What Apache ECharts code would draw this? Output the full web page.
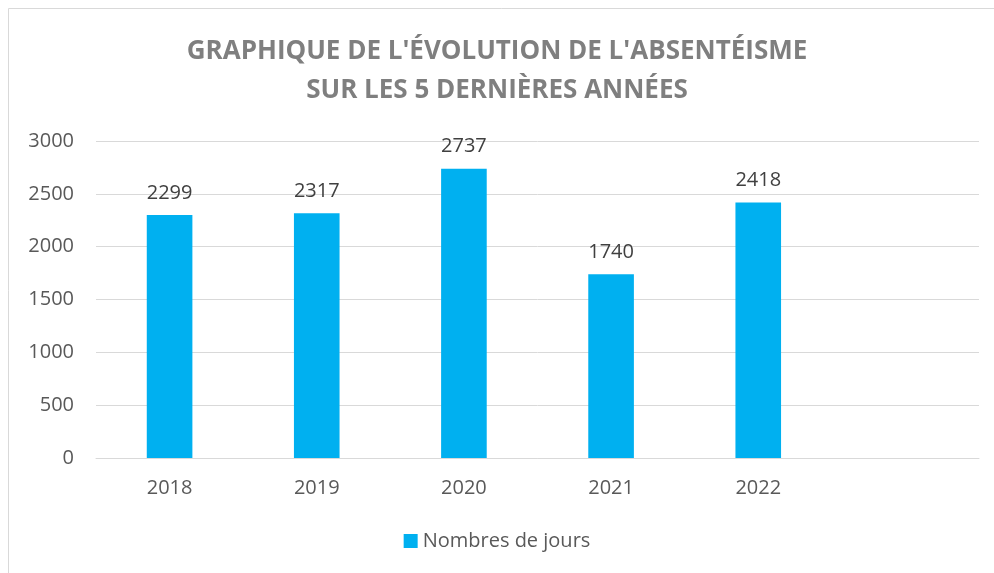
<!DOCTYPE html>
<html>
<head>
<meta charset="utf-8">
<script src="https://cdn.jsdelivr.net/npm/echarts@6/dist/echarts.min.js"></script>
<style>
    html, body { margin: 0; padding: 0; background: #fff; }
    #chart { width: 994px; height: 573px; }
</style>
</head>
<body>
<div id="chart"></div>
<script>
// data
let years = ['2018', '2019', '2020', '2021', '2022', ''];
let jours = [2299, 2317, 2737, 1740, 2418, '-'];
let seriesName = 'Nombres de jours';
let titleLines = ["GRAPHIQUE DE L'ÉVOLUTION DE L'ABSENTÉISME", 'SUR LES 5 DERNIÈRES ANNÉES'];

// ----------------------------------------------------
let chart = echarts.init(document.getElementById('chart'));
let font = "'Open Sans', sans-serif";
let option = {
    animation: false,
    color: ['#00b0f0'],
    graphic: [{
        type: 'polyline',
        shape: { points: [[8.5, 573], [8.5, 8.5], [994, 8.5]] },
        style: { stroke: '#d9d9d9', lineWidth: 1, fill: null }
    }],
    title: {
        left: 'center',
        top: 27,
        text: titleLines.join('\n'),
        textStyle: {
            fontFamily: font,
            fontSize: 26,
            fontWeight: 'bold',
            color: '#7f7f7f',
            lineHeight: 39
        }
    },
    legend: {
        bottom: 17,
        left: 'center',
        itemWidth: 14,
        itemHeight: 14,
        itemGap: 5,
        icon: 'rect',
        textStyle: { fontFamily: font, fontSize: 20, color: '#595959' }
    },
    grid: {
        left: 96,
        right: 15,
        top: 141,
        bottom: 115
    },
    xAxis: {
        type: 'category',
        data: years,
        axisLine: { lineStyle: { color: '#d9d9d9', width: 1 } },
        axisTick: { show: false },
        axisLabel: { fontFamily: font, fontSize: 20, color: '#595959', margin: 20 }
    },
    yAxis: {
        type: 'value',
        min: 0,
        max: 3000,
        interval: 500,
        axisLine: { show: false },
        axisTick: { show: false },
        splitLine: { lineStyle: { color: '#d9d9d9', width: 1 } },
        axisLabel: {
            fontFamily: font,
            fontSize: 20,
            color: '#595959',
            margin: 22,
            formatter: function (v) { return String(v); }
        }
    },
    series: [
        {
            name: seriesName,
            type: 'bar',
            data: jours,
            barWidth: '31%',
            label: {
                show: true,
                position: 'top',
                distance: 12,
                fontFamily: font,
                fontSize: 20,
                color: '#404040'
            }
        }
    ]
};

chart.setOption(option);
</script>
</body>
</html>
